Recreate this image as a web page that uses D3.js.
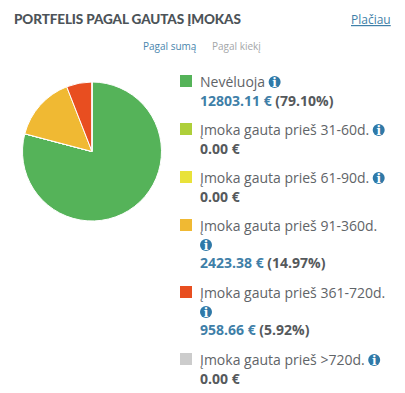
<!DOCTYPE html>
<html>
<head>
<meta charset="utf-8">
<script src="https://cdn.jsdelivr.net/npm/d3@7"></script>
<style>
html,body{margin:0;padding:0;background:#fff;}
svg{display:block;}
text{font-family:"Open Sans",sans-serif;}
</style>
</head>
<body>
<div id="container"></div>
<script>
let w=405;
let h=393;

let categories=["Nevėluoja","Įmoka gauta prieš 31-60d.","Įmoka gauta prieš 61-90d.","Įmoka gauta prieš 91-360d.","Įmoka gauta prieš 361-720d.","Įmoka gauta prieš >720d."];
let amounts=[12803.11,0,0,2423.38,958.66,0];
let shares=[79.10,0,0,14.97,5.92,0];
let sliceColors=["#55b359","#aecf3a","#e9e23a","#f0b933","#e84e20","#cccccc"];
let tabs=["Pagal sumą","Pagal kiekį"];

let viz=d3.select("#container").append("svg").attr("width",w).attr("height",h);

// header
viz.append("text").text("PORTFELIS PAGAL GAUTAS ĮMOKAS")
  .attr("x",14).attr("y",24)
  .style("font-family","Lato").style("font-weight",900)
  .attr("font-size",13.5).attr("letter-spacing",-0.1).attr("fill","#4c5358");
viz.append("text").text("Plačiau")
  .attr("x",351).attr("y",24)
  .attr("font-size",12).attr("fill","#3f7fa8").attr("text-decoration","underline");
viz.append("text").text(tabs[0]).attr("x",143).attr("y",50).attr("font-size",10).attr("fill","#4a86ad");
viz.append("text").text(tabs[1]).attr("x",212).attr("y",50).attr("font-size",10).attr("fill","#a3a6a8");

// pie
let pie=d3.pie().sort(null).value(d=>d);
let arc=d3.arc().innerRadius(0).outerRadius(69.5);
viz.append("g").attr("transform","translate(92,151.5)")
  .selectAll("path").data(pie(amounts)).enter()
  .append("path")
  .attr("d",arc)
  .attr("fill",(d,i)=>sliceColors[i])
  .attr("stroke","#fff").attr("stroke-width",1);

// legend rows, y of first line
let rowY=[87,135,183,231,298,365];
let wrapped=[false,false,false,true,true,false];

function infoIcon(parent,x,y){
  parent.append("circle").attr("cx",x).attr("cy",y).attr("r",6).attr("fill","#2f79a8");
  parent.append("text").text("i").attr("x",x).attr("y",y+4.5)
    .attr("text-anchor","middle").style("font-family","DejaVu Serif").attr("font-size",12).attr("font-weight",700).attr("fill","#fff");
}

categories.forEach(function(c,i){
  let g=viz.append("g");
  let y=rowY[i];
  g.append("rect").attr("x",180).attr("y",y-12).attr("width",12).attr("height",12).attr("fill",sliceColors[i]);
  let label=g.append("text").text(c).attr("x",200).attr("y",y).attr("font-size",14).attr("fill","#5f6468");
  let valueY=y+18.5;
  if(wrapped[i]){
    infoIcon(g,206,y+14);
    valueY=y+37;
  }else{
    infoIcon(g,200+label.node().getComputedTextLength()+9.5,y-5);
  }
  let value=g.append("text").attr("x",200).attr("y",valueY).attr("font-size",14).attr("font-weight",700);
  if(amounts[i]>0){
    value.append("tspan").text(amounts[i].toFixed(2)+" €").attr("fill","#3f7fa8");
    value.append("tspan").text(" ("+shares[i].toFixed(2)+"%)").attr("fill","#55595c");
  }else{
    value.append("tspan").text(amounts[i].toFixed(2)+" €").attr("fill","#55595c");
  }
});
</script>
</body>
</html>
